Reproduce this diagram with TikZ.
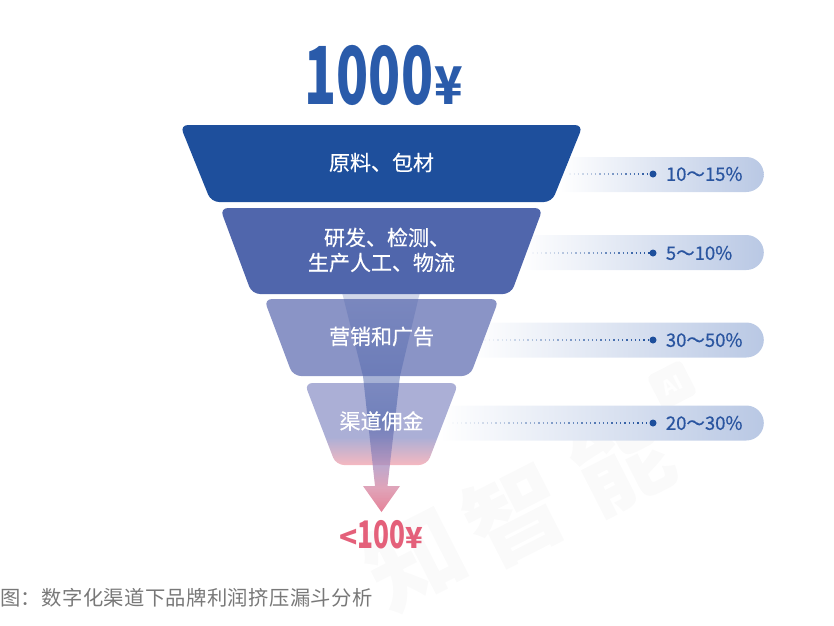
\documentclass[tikz,border=0pt]{standalone}
\usepackage{fontspec}
\usepackage{graphicx}
\setmainfont{Noto Sans CJK SC}
\newfontfamily\heavyfont[FakeBold=0.4]{Noto Sans CJK SC}
\usetikzlibrary{shapes.geometric, shapes.misc, positioning, fadings, calc}
\definecolor{titleblue}{RGB}{42,91,170}
\definecolor{darkblue}{RGB}{30,79,156}
\definecolor{midblue}{RGB}{80,102,172}
\definecolor{softblue}{RGB}{138,148,198}
\definecolor{paleblue}{RGB}{171,175,214}
\definecolor{palepink}{RGB}{245,184,192}
\definecolor{pillmid}{RGB}{226,231,243}
\definecolor{pillend}{RGB}{185,200,228}
\definecolor{valueblue}{RGB}{42,85,160}
\definecolor{lossred}{RGB}{228,96,122}
\definecolor{flowtip}{RGB}{226,115,140}
\definecolor{flowpink}{RGB}{218,145,170}
\definecolor{flowmauve}{RGB}{165,140,190}
\definecolor{markgrey}{RGB}{250,250,250}
\definecolor{captiongrey}{RGB}{120,120,120}
\pgfdeclareverticalshading{lastfill}{100bp}{color(0bp)=(palepink); color(25bp)=(palepink); color(42bp)=(paleblue); color(100bp)=(paleblue)}
\pgfdeclareverticalshading{flowfill}{100bp}{color(0bp)=(flowtip); color(25bp)=(flowtip); color(29bp)=(flowpink); color(33bp)=(flowmauve); color(40bp)=(midblue); color(100bp)=(midblue)}
\tikzfading[name=flowfade, top color=transparent!100, bottom color=transparent!10]
\tikzfading[name=leaderfade, left color=transparent!100, right color=transparent!0]
\tikzset{
  funnel/.style={trapezium, trapezium stretches body=true, shape border rotate=180, rounded corners=8pt, inner sep=0pt, outer sep=0pt},
  stagetext/.style={text=white, font=\heavyfont\fontsize{21}{25}\selectfont, align=center, yshift=1pt},
  pill/.style={rounded rectangle, rounded rectangle left arc=none, anchor=east, left color=white, middle color=pillmid, right color=pillend, minimum height=35pt, inner sep=0pt},
  dotnode/.style={circle, fill=darkblue, minimum size=7pt, inner sep=0pt},
  valuetext/.style={text=valueblue, font=\heavyfont\fontsize{18.5}{22}\selectfont, inner sep=0pt},
  leader/.style={draw=darkblue, line width=1.3pt, dash pattern=on 1.3pt off 3pt, path fading=leaderfade},
  markchar/.style={text=markgrey, font=\bfseries\fontsize{96}{96}\selectfont, rotate=27, inner sep=0pt},
}
\begin{document}
\begin{tikzpicture}[x=1pt, y=-1pt]
\useasboundingbox (0,0) rectangle (834,625);
% watermark
\node (mark1) [markchar] at (415,558) {知};
\node (mark2) [markchar] at (515,515) {智};
\node (mark3) [markchar] at (622,462) {能};
\node (markai) [fill=markgrey, rounded corners=5pt, rotate=27, text=white, minimum size=38pt, inner sep=0pt, font=\bfseries\fontsize{20}{20}\selectfont] at (672,385) {AI};
% pills behind the funnel
\node (pill1) [pill, minimum width=204pt] at (764,174.5) {\phantom{x}};
\node (pill2) [pill, minimum width=244pt] at (764,252.5) {\phantom{x}};
\node (pill3) [pill, minimum width=294pt] at (764,340) {\phantom{x}};
\node (pill4) [pill, minimum width=324pt] at (764,423) {\phantom{x}};
% funnel stages
\node (t1) [funnel, minimum width=403pt, trapezium angle=68, fill=darkblue] at (381.5,163.5) {\rule{0pt}{77pt}};
\node (t2) [funnel, minimum width=323pt, trapezium angle=69.6, fill=midblue, below=6pt of t1] {\rule{0pt}{86pt}};
\node (t3) [funnel, minimum width=235pt, trapezium angle=69.4, fill=softblue, below=5pt of t2] {\rule{0pt}{77pt}};
\node (t4) [funnel, minimum width=154pt, trapezium angle=69, shading=lastfill, below=7pt of t3] {\rule{0pt}{82pt}};
% flow through the funnel
\path[shading=flowfill, path fading=flowfade] (313,208) -- (450,208) -- (419,296) -- (400,376) -- (387.5,486) -- (400,486) -- (381.5,512) -- (363,486) -- (375,486) -- (363,376) -- (343,296) -- cycle;
% labels
\node (l1) [stagetext] at (t1.center) {原料、包材};
\node (l2) [stagetext] at (t2.center) {\hspace*{11pt}研发、检测、\\生产人工、物流};
\node (l3) [stagetext] at (t3.center) {营销和广告};
\node (l4) [stagetext, yshift=2pt] at (t4.center) {渠道佣金};
% leaders and values
\node (d1) [dotnode] at (653,174) {};
\node (d2) [dotnode] at (653,253) {};
\node (d3) [dotnode] at (653,340) {};
\node (d4) [dotnode] at (653,423) {};
\coordinate (s1) at (565,174);
\coordinate (s2) at (528,253);
\coordinate (s3) at (480,340);
\coordinate (s4) at (448,423);
\draw[leader] (s1) -- (d1.center) ($(s1)+(0,-4)$) ($(d1.center)+(0,4)$);
\draw[leader] (s2) -- (d2.center) ($(s2)+(0,-4)$) ($(d2.center)+(0,4)$);
\draw[leader] (s3) -- (d3.center) ($(s3)+(0,-4)$) ($(d3.center)+(0,4)$);
\draw[leader] (s4) -- (d4.center) ($(s4)+(0,-4)$) ($(d4.center)+(0,4)$);
\node (v1) [valuetext, right=9pt of d1] {10～15\%};
\node (v2) [valuetext, right=9pt of d2] {5～10\%};
\node (v3) [valuetext, right=9pt of d3] {30～50\%};
\node (v4) [valuetext, right=9pt of d4] {20～30\%};
% totals
\node (top) [text=titleblue, font=\bfseries, inner sep=0pt] at (384,75) {\scalebox{.66}[1]{\fontsize{80}{80}\selectfont 1000}\,\scalebox{.9}[1]{\fontsize{52}{52}\selectfont ¥}};
\node (end) [text=lossred, font=\bfseries, inner sep=0pt] at (381.5,535) {\fontsize{30}{30}\selectfont <\scalebox{.69}[1]{\fontsize{38}{38}\selectfont 100}\fontsize{29}{29}\selectfont ¥};
% caption
\node (cap) [anchor=west, inner sep=0pt, text=captiongrey] at (0,598) {\addfontfeature{LetterSpace=2}\fontsize{20.3}{24}\selectfont 图：数字化渠道下品牌利润挤压漏斗分析};
\end{tikzpicture}
\end{document}
